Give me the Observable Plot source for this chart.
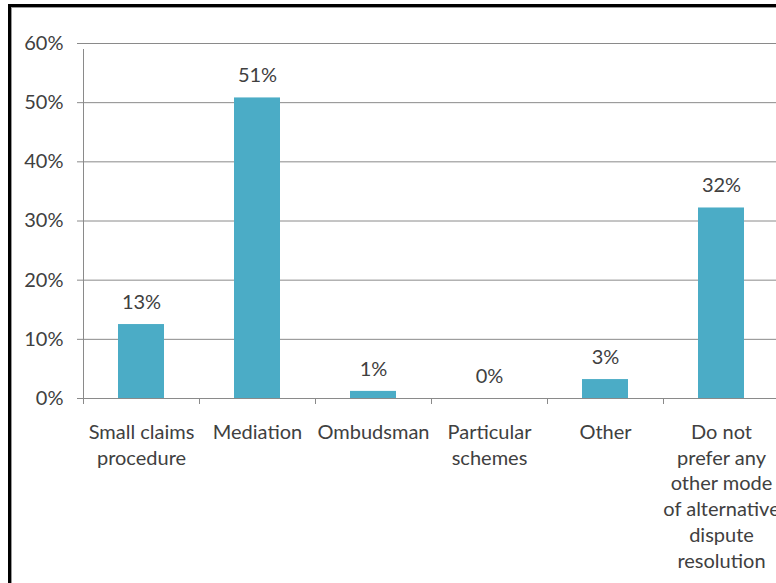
<!DOCTYPE html>
<html>
<head>
<meta charset="utf-8">
<script src="https://cdn.jsdelivr.net/npm/d3@7"></script>
<script src="https://cdn.jsdelivr.net/npm/@observablehq/plot@0.6"></script>
<style>
  html, body { margin: 0; padding: 0; background: #fff; overflow: hidden; }
  #wrap { position: relative; width: 776px; height: 583px; overflow: hidden; }
  #frame { position: absolute; left: 8px; top: 4px; width: 800px; height: 620px;
           border-left: 3px solid #000; border-top: 3px solid #000; box-sizing: border-box; pointer-events: none; }
  #shadow { position: absolute; left: 11px; top: 7px; width: 800px; height: 620px;
           border-left: 1px solid #999; border-top: 1px solid #999; box-sizing: border-box; pointer-events: none; }
  #chart { position: absolute; left: 0; top: 0; }
</style>
</head>
<body>
<div id="wrap">
  <div id="chart"></div>
  <div id="shadow"></div>
  <div id="frame"></div>
</div>
<script>
const categories = ["Small claims procedure", "Mediation", "Ombudsman", "Particular schemes", "Other", "Do not prefer any other mode of alternative dispute resolution"];
const tickLabels = ["Small claims\nprocedure", "Mediation", "Ombudsman", "Particular\nschemes", "Other", "Do not\nprefer any\nother mode\nof alternative\ndispute\nresolution"];
const values = [0.125, 0.508, 0.012, 0.0, 0.032, 0.322];
const valueLabels = ["13%", "51%", "1%", "0%", "3%", "32%"];
const yTicks = [0, 0.1, 0.2, 0.3, 0.4, 0.5, 0.6];

const data = categories.map((c, i) => ({cat: c, value: values[i], label: valueLabels[i], tick: tickLabels[i]}));

const font = "Lato, 'Open Sans', sans-serif";
const textColor = "#404040";
const fs = 20;

const chart = Plot.plot({
  width: 776,
  height: 583,
  marginLeft: 83,
  marginRight: -3,
  marginTop: 43,
  marginBottom: 185,
  style: { fontFamily: font, fontSize: fs + "px", color: textColor, background: "transparent" },
  x: { domain: categories, paddingInner: 0.6, paddingOuter: 0.3, axis: null },
  y: { domain: [0, 0.6], axis: null },
  marks: [
    Plot.ruleY(yTicks, { y: d => d, stroke: "#8a8a8a", strokeWidth: 1, insetLeft: -6 }),
    Plot.ruleX(data, { x: "cat", y1: () => 0, y2: () => 0.6, dx: -58, insetBottom: -6, stroke: "#8a8a8a", filter: (d, i) => i === 0 }),
    Plot.ruleX(data, { x: "cat", y1: () => 0, y2: () => 0, dx: -58, insetBottom: -6, stroke: "#8a8a8a" }),
    Plot.barY(data, { x: "cat", y: "value", fill: "#4bacc6" }),
    Plot.text(data, { x: "cat", y: "value", text: "label", dy: -22, fontSize: fs, fill: textColor }),
    Plot.text(data, { x: "cat", y: () => 0, text: "tick", lineAnchor: "top", dy: 22, lineHeight: 1.29, fontSize: fs, fill: textColor }),
    Plot.text(yTicks, { x: () => categories[0], y: d => d, text: d => d3.format(".0%")(d), textAnchor: "end", dx: -78, fontSize: fs, fill: textColor })
  ]
});
document.getElementById("chart").appendChild(chart);
</script>
</body>
</html>
